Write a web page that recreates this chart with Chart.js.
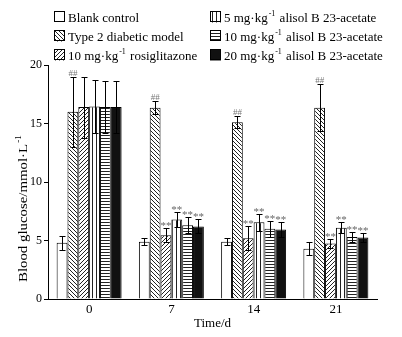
<!DOCTYPE html>
<html lang="en">

<head>
    <meta charset="UTF-8">
    <title>Blood glucose bar chart</title>
    <script src="https://cdn.jsdelivr.net/npm/chart.js"></script>
    <style>
        body { margin: 0; background: #fff; }
        #wrap { width: 402px; height: 337px; }
    </style>
</head>

<body>
    <div id="wrap">
        <canvas id="glucoseChart" width="402" height="337"></canvas>
    </div>

    <script>
        // values (mmol/L, mean and error)
        const days = ['0', '7', '14', '21'];
        const blankControl = [4.8, 4.9, 4.9, 4.3];
        const blankErr = [0.6, 0.3, 0.3, 0.55];
        const diabeticModel = [16.0, 16.35, 15.1, 16.35];
        const modelErr = [3.0, 0.55, 0.5, 2.0];
        const rosiglitazone = [16.4, 5.45, 5.2, 4.75];
        const rosiErr = [2.6, 0.6, 1.0, 0.35];
        const alisol5 = [16.45, 6.8, 6.55, 6.1];
        const alisol5Err = [2.3, 0.65, 0.7, 0.45];
        const alisol10 = [16.4, 6.3, 6.0, 5.3];
        const alisol10Err = [2.2, 0.7, 0.7, 0.45];
        const alisol20 = [16.4, 6.2, 5.95, 5.25];
        const alisol20Err = [2.2, 0.6, 0.65, 0.4];
        const modelMarks = ['##', '##', '##', '##'];
        const treatMarks = ['', '**', '**', '**'];

        const FONT = "'Liberation Serif', 'DejaVu Serif', serif";

        function makePattern(kind) {
            const c = document.createElement('canvas');
            const s = kind === 'horiz' ? 3 : 4;
            c.width = s; c.height = s;
            const g = c.getContext('2d');
            g.fillStyle = '#fff';
            g.fillRect(0, 0, s, s);
            g.strokeStyle = '#222';
            g.lineWidth = 1;
            g.beginPath();
            if (kind === 'back') {
                g.moveTo(-1, -1); g.lineTo(s + 1, s + 1);
                g.moveTo(-1, s - 1); g.lineTo(1, s + 1);
                g.moveTo(s - 1, -1); g.lineTo(s + 1, 1);
            } else if (kind === 'fwd') {
                g.moveTo(-1, s + 1); g.lineTo(s + 1, -1);
                g.moveTo(-1, 1); g.lineTo(1, -1);
                g.moveTo(s - 1, s + 1); g.lineTo(s + 1, s - 1);
            } else if (kind === 'vert') {
                g.moveTo(0.5, 0); g.lineTo(0.5, s);
            } else if (kind === 'horiz') {
                g.moveTo(0, 0.5); g.lineTo(s, 0.5);
            }
            g.stroke();
            return g.createPattern(c, 'repeat');
        }

        const fills = [
            '#fff',
            makePattern('back'),
            makePattern('fwd'),
            makePattern('vert'),
            makePattern('horiz'),
            '#111'
        ];

        const series = [
            { label: 'Blank control', data: blankControl, err: blankErr, marks: null },
            { label: 'Type 2 diabetic model', data: diabeticModel, err: modelErr, marks: modelMarks },
            { label: '10 mg·kg-1 rosiglitazone', data: rosiglitazone, err: rosiErr, marks: treatMarks },
            { label: '5 mg·kg-1 alisol B 23-acetate', data: alisol5, err: alisol5Err, marks: treatMarks },
            { label: '10 mg·kg-1 alisol B 23-acetate', data: alisol10, err: alisol10Err, marks: treatMarks },
            { label: '20 mg·kg-1 alisol B 23-acetate', data: alisol20, err: alisol20Err, marks: treatMarks }
        ];

        // text with "-1" drawn as superscript
        function drawSupText(ctx, text, x, y, size) {
            const parts = text.split('-1');
            ctx.textAlign = 'left';
            ctx.textBaseline = 'alphabetic';
            let cx = x;
            parts.forEach((p, i) => {
                ctx.font = size + 'px ' + FONT;
                ctx.fillText(p, cx, y);
                cx += ctx.measureText(p).width;
                if (i < parts.length - 1) {
                    ctx.font = Math.round(size * 0.62) + 'px ' + FONT;
                    ctx.fillText('-1', cx + 1, y - size * 0.45);
                    cx += ctx.measureText('-1').width + 2;
                }
            });
            return cx - x;
        }

        function supTextWidth(ctx, text, size) {
            const parts = text.split('-1');
            let w = 0;
            parts.forEach((p, i) => {
                ctx.font = size + 'px ' + FONT;
                w += ctx.measureText(p).width;
                if (i < parts.length - 1) {
                    ctx.font = Math.round(size * 0.62) + 'px ' + FONT;
                    w += ctx.measureText('-1').width + 2;
                }
            });
            return w;
        }

        const errorBars = {
            id: 'errorBars',
            afterDatasetsDraw(chart) {
                const ctx = chart.ctx;
                const y = chart.scales.y;
                ctx.save();
                ctx.strokeStyle = '#000';
                ctx.lineWidth = 1;
                chart.data.datasets.forEach((ds, di) => {
                    const meta = chart.getDatasetMeta(di);
                    meta.data.forEach((bar, i) => {
                        const v = ds.data[i], e = series[di].err[i];
                        const x = Math.round(bar.x) + 0.5;
                        const top = Math.round(y.getPixelForValue(v + e)) + 0.5;
                        const bot = Math.round(y.getPixelForValue(v - e)) + 0.5;
                        ctx.beginPath();
                        ctx.moveTo(x, top); ctx.lineTo(x, bot);
                        ctx.moveTo(x - 3, top); ctx.lineTo(x + 3, top);
                        ctx.moveTo(x - 3, bot); ctx.lineTo(x + 3, bot);
                        ctx.stroke();
                        const m = series[di].marks ? series[di].marks[i] : '';
                        if (m) {
                            ctx.textAlign = 'center';
                            ctx.textBaseline = 'alphabetic';
                            if (m === '##') {
                                ctx.fillStyle = '#777';
                                ctx.font = '9px ' + FONT;
                                ctx.fillText(m, bar.x, top - 2);
                            } else {
                                ctx.fillStyle = '#666';
                                ctx.font = '11px ' + FONT;
                                ctx.fillText(m, bar.x, top);
                            }
                        }
                    });
                });
                ctx.restore();
            }
        };

        const extraText = {
            id: 'extraText',
            afterDraw(chart) {
                const ctx = chart.ctx;
                const area = chart.chartArea;
                ctx.save();
                ctx.fillStyle = '#000';

                // legend, two columns
                const cols = [54, 210];
                const rows = [17, 36, 55];
                series.forEach((s, i) => {
                    const bx = cols[Math.floor(i / 3)];
                    const by = rows[i % 3];
                    ctx.fillStyle = fills[i];
                    ctx.fillRect(bx, by - 5.5, 11, 11);
                    ctx.strokeStyle = '#000';
                    ctx.lineWidth = 1;
                    ctx.strokeRect(bx + 0.5, by - 5.5, 10, 10);
                    ctx.fillStyle = '#000';
                    drawSupText(ctx, s.label, bx + 14, by + 4.5, 13);
                });

                // x title
                ctx.font = '13px ' + FONT;
                ctx.textAlign = 'center';
                ctx.textBaseline = 'middle';
                ctx.fillText('Time/d', (area.left + area.right) / 2, 324);

                // y title, rotated
                const yt = 'Blood glucose/mmol·L-1';
                const w = supTextWidth(ctx, yt, 13);
                ctx.translate(22, 208);
                ctx.rotate(-Math.PI / 2);
                ctx.scale(148 / w, 1);
                drawSupText(ctx, yt, -w / 2, 4.5, 13);
                ctx.restore();
            }
        };

        const ctx = document.getElementById('glucoseChart').getContext('2d');
        const myChart = new Chart(ctx, {
            type: 'bar',
            data: {
                labels: days,
                datasets: series.map((s, i) => ({
                    label: s.label,
                    data: s.data,
                    backgroundColor: fills[i],
                    borderColor: '#000',
                    borderWidth: 1,
                    categoryPercentage: 0.79,
                    barPercentage: 1.0
                }))
            },
            options: {
                responsive: false,
                animation: false,
                layout: { padding: { top: 65, right: 25, bottom: 0, left: 0 } },
                plugins: {
                    legend: { display: false },
                    tooltip: { enabled: false }
                },
                scales: {
                    x: {
                        grid: { display: true, drawOnChartArea: false, drawTicks: false, tickLength: 0 },
                        border: { color: '#000', width: 1 },
                        ticks: { color: '#000', font: { family: FONT, size: 13 }, padding: 3 },
                        afterFit: (s) => { s.height = 38; }
                    },
                    y: {
                        min: 0,
                        max: 20,
                        ticks: { stepSize: 5, color: '#000', font: { family: FONT, size: 12 }, padding: 2 },
                        grid: { drawOnChartArea: false, color: '#000', tickLength: 4 },
                        border: { color: '#000', width: 1 },
                        afterFit: (s) => { s.width = 48; }
                    }
                }
            },
            plugins: [errorBars, extraText]
        });
    </script>
</body>

</html>
